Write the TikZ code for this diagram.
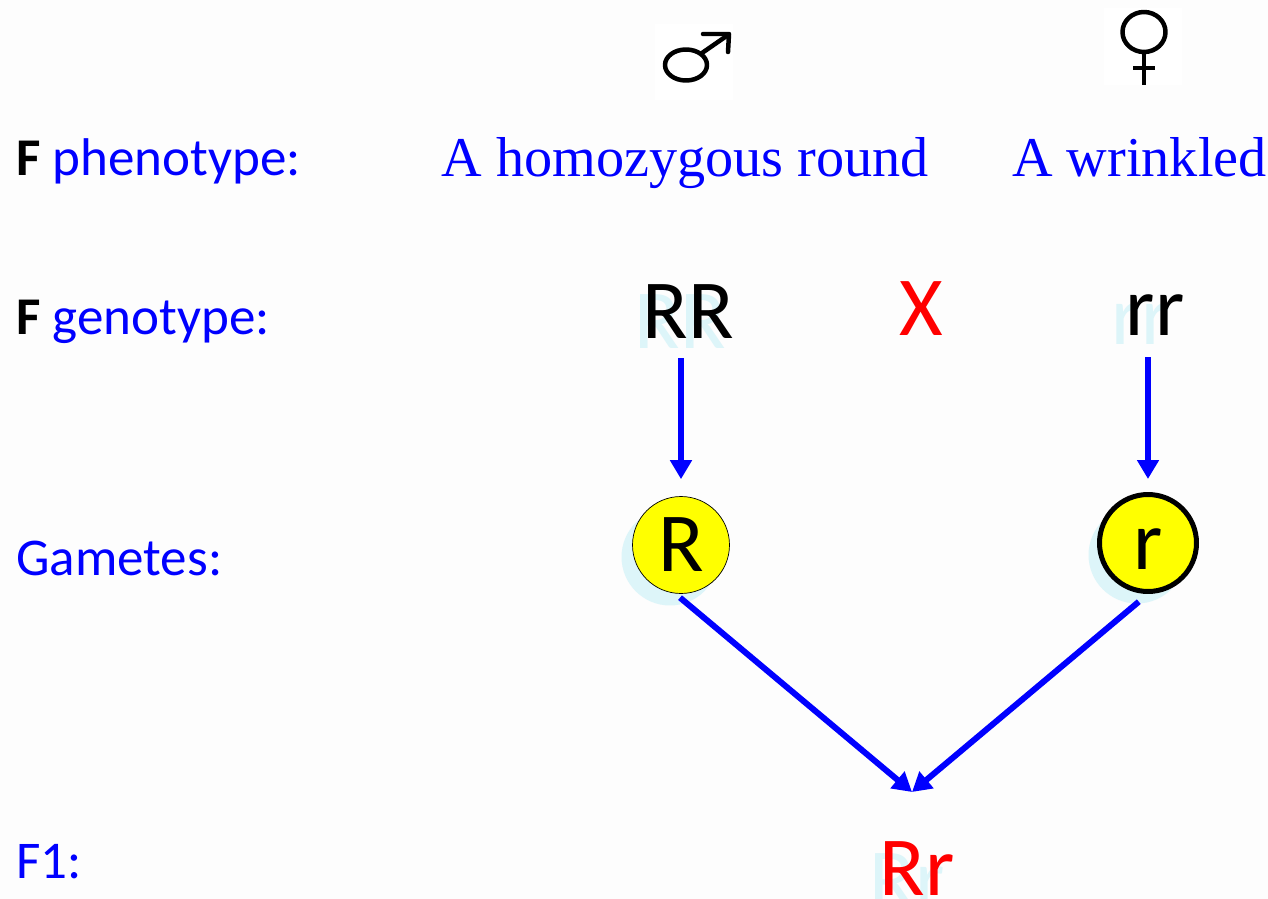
\documentclass[tikz,border=0pt]{standalone}
\usepackage{xcolor}
\usepackage{fontspec}
\setmainfont{Carlito}
\newfontfamily\headfont{Liberation Serif}
\usetikzlibrary{arrows.meta, positioning, calc}
\definecolor{pagebg}{HTML}{FDFDFD}
\definecolor{shadowcyan}{HTML}{DDF5F9}
\definecolor{geneyellow}{RGB}{255,255,0}
\definecolor{labelblue}{RGB}{0,0,255}
\definecolor{crossred}{RGB}{255,0,0}
\newcommand{\bigsize}{\fontsize{47.8}{52}\selectfont}
\newcommand{\labelsize}{\fontsize{30.2}{34}\selectfont}

\begin{document}
\begin{tikzpicture}[
    x=0.02cm, y=-0.02cm,
    rowlabel/.style={anchor=base west, inner sep=0pt, text=labelblue, font=\labelsize},
    headlabel/.style={anchor=base, inner sep=0pt, text=labelblue, font=\headfont\fontsize{32}{36}\selectfont},
    allele/.style={anchor=base, inner sep=0pt, font=\bigsize},
    ghost/.style={anchor=base, inner sep=0pt, font=\bigsize, text=shadowcyan},
    gamete/.style={circle, draw=black, fill=geneyellow, inner sep=0pt, minimum size=1.94cm, font=\bigsize},
    ghostdisc/.style={circle, fill=shadowcyan, inner sep=0pt, minimum size=1.94cm},
    patch/.style={fill=white},
    symbol/.style={draw=black, line width=0.09cm, line cap=round, line join=round},
    arr/.style={-{Triangle[length=0.38cm, width=0.42cm]}, line width=0.12cm, color=labelblue}
]
    \useasboundingbox (0,0) rectangle (1268,899);
    \fill[pagebg] (0,0) rectangle (1268,899);

    % Symbols
    \fill[patch] (655,24) rectangle (733,100);
    \draw[symbol] (686,65) ellipse [x radius=21, y radius=15.5];
    \draw[symbol] (702,53) -- (728,35);
    \draw[symbol] (703,34) -- (729,34) -- (728,52);
    \fill[patch] (1104,8) rectangle (1182,85);
    \draw[symbol] (1144,32) ellipse [x radius=21.5, y radius=20];
    \draw[symbol, line cap=butt] (1144,52) -- (1144,85);
    \draw[symbol, line cap=butt] (1133,68) -- (1155,68);

    % Row labels
    \node[rowlabel] (phen) at (16,175) {\textcolor{black}{\textbf{F}} phenotype:};
    \node[rowlabel] (gen) at (16,334) {\textcolor{black}{\textbf{F}} genotype:};
    \node[rowlabel] (gam) at (16,575) {Gametes:};
    \node[rowlabel] (fone) at (16,878) {F1:};

    % Parents
    \node[headlabel] (round) at (685,176) {A homozygous round};
    \node[headlabel] (wrinkled) at (1139.5,176) {A wrinkled};
    \node[ghost] (RRghost) at (680,348) {RR};
    \node[allele] (RR) at (688,338) {RR};
    \node[allele, text=crossred] (cross) at (921,335) {X};
    \node[ghost] (rrghost) at (1141,344) {rr};
    \node[allele] (rr) at (1155,335) {rr};

    % Gametes
    \node[ghostdisc] (Rghost) at (670,557) {};
    \node[ghostdisc] (rghost) at (1137,555) {};
    \node[gamete] (gR) at (681,545) {R};
    \node[gamete, line width=0.1cm] (gr) at (1148,543) {\vphantom{R}r};

    % F1
    \node[ghost] (Rrghost) at (907,907) {Rr};
    \node[allele, text=crossred] (Rr) at (917,895) {Rr};
    \coordinate (meet) at (912,792);

    % Arrows
    \draw[arr, shorten <=0.4cm, shorten >=0.34cm] (gR |- RR.south) -- (gR.north);
    \draw[arr, shorten <=0.44cm, shorten >=0.26cm] (gr |- rr.south) -- (gr.north);
    \draw[arr, shorten <=0.13cm] (gR.-97) -- (meet);
    \draw[arr, shorten <=0.24cm] (gr.south) -- (meet);
\end{tikzpicture}
\end{document}
